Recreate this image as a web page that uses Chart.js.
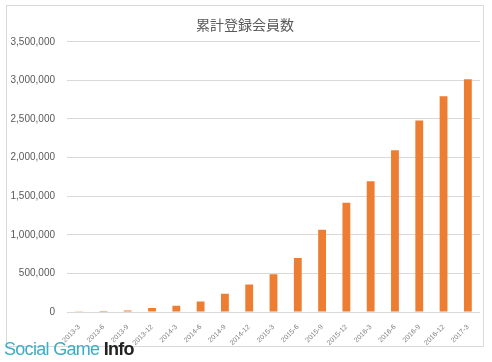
<!DOCTYPE html>
<html>
<head>
<meta charset="utf-8">
<script src="https://cdn.jsdelivr.net/npm/chart.js@4/dist/chart.umd.min.js"></script>
<style>
  html, body { margin: 0; padding: 0; background: #fff; }
  #wrap { position: relative; width: 492px; height: 362px; }
  #frame {
    position: absolute; left: 6px; top: 5px; width: 478px; height: 342px;
    border: 1px solid #d9d9d9; box-sizing: border-box;
  }
  #chart { position: absolute; left: 0; top: 0; }
  #logo {
    position: absolute; left: 4px; top: 337px;
    font-family: 'Liberation Sans', sans-serif; font-size: 18px;
    letter-spacing: -0.7px; white-space: nowrap; line-height: 24px;
  }
  #logo .a { color: #3aaec4; font-weight: normal; }
  #logo .b { color: #222; font-weight: bold; }
</style>
</head>
<body>
<div id="wrap">
  <div id="frame"></div>
  <canvas id="chart" width="492" height="362"></canvas>
  <div id="logo"><span class="a">Social Game </span><span class="b">Info</span></div>
</div>
<script>
// Dades llegides del gràfic
const TITLE = '累計登録会員数';

const periods = [
  '2013-3', '2013-6', '2013-9', '2013-12',
  '2014-3', '2014-6', '2014-9', '2014-12',
  '2015-3', '2015-6', '2015-9', '2015-12',
  '2016-3', '2016-6', '2016-9', '2016-12',
  '2017-3'
];

const members = [
  10000, 12000, 20000, 52000,
  80000, 135000, 235000, 355000,
  490000, 700000, 1065000, 1415000,
  1695000, 2095000, 2480000, 2795000,
  3015000
];

const yTicks = [0, 500000, 1000000, 1500000, 2000000, 2500000, 3000000, 3500000];

const COLORS = {
  bar:  '#ed7d31',
  grid: '#d9d9d9',
  text: '#595959',
};

const fmt = v => v.toLocaleString('en-US');

new Chart(document.getElementById('chart'), {
  type: 'bar',
  data: {
    labels: periods,
    datasets: [{
      data: members,
      backgroundColor: COLORS.bar,
      borderWidth: 0,
      barPercentage: 0.62,
      categoryPercentage: 0.52,
    }]
  },
  options: {
    responsive: false,
    animation: false,
    layout: { padding: { left: 10, right: 12, top: 0, bottom: 0 } },
    plugins: {
      legend: { display: false },
      tooltip: { enabled: false },
      title: {
        display: true,
        text: TITLE,
        color: COLORS.text,
        font: { family: "'Noto Sans CJK JP', sans-serif", size: 14, weight: 'normal' },
        padding: { top: 16, bottom: 9 },
      },
    },
    scales: {
      x: {
        grid: { display: false },
        border: { display: false },
        ticks: {
          color: '#7f7f7f',
          font: { family: "'Liberation Sans', sans-serif", size: 7 },
          minRotation: 45,
          maxRotation: 45,
          padding: 3,
        },
        afterFit: scale => { scale.height = 50; },
      },
      y: {
        min: 0,
        max: 3500000,
        grid: { color: COLORS.grid, drawTicks: false, lineWidth: 1 },
        border: { display: false },
        afterBuildTicks: scale => { scale.ticks = yTicks.map(v => ({ value: v })); },
        ticks: {
          color: COLORS.text,
          font: { family: "'Liberation Sans', sans-serif", size: 10 },
          padding: 12,
          callback: v => fmt(v),
        },
        afterFit: scale => { scale.width = 57; },
      },
    },
  },
});
</script>
</body>
</html>
